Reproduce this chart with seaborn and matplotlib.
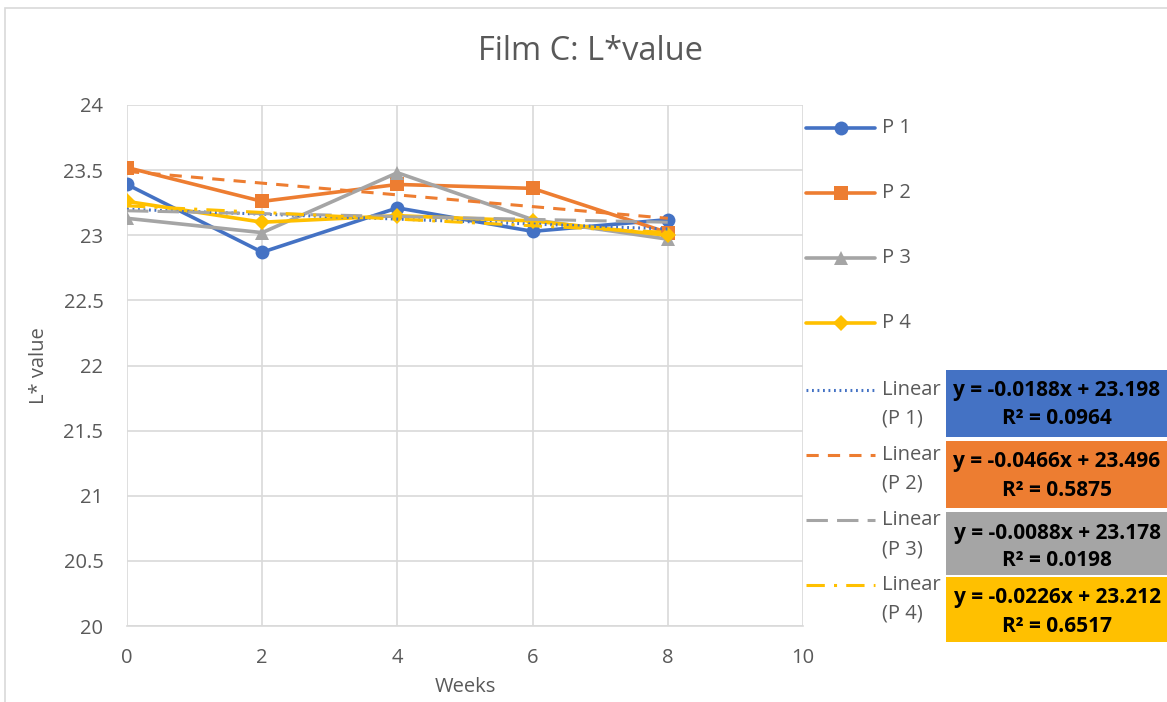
import numpy as np
import pandas as pd
import matplotlib
matplotlib.use("Agg")
import matplotlib.pyplot as plt
from matplotlib.lines import Line2D
from matplotlib.patches import Rectangle
import seaborn as sns

# ---- data ----
weeks = [0, 2, 4, 6, 8]
p1 = [23.39, 22.87, 23.21, 23.03, 23.12]
p2 = [23.52, 23.26, 23.39, 23.36, 23.02]
p3 = [23.13, 23.02, 23.48, 23.12, 22.97]
p4 = [23.26, 23.10, 23.15, 23.11, 23.00]
series_names = ["P 1", "P 2", "P 3", "P 4"]
eq_lines = ["y = -0.0188x + 23.198", "y = -0.0466x + 23.496",
            "y = -0.0088x + 23.178", "y = -0.0226x + 23.212"]
r2_lines = ["R² = 0.0964", "R² = 0.5875", "R² = 0.0198", "R² = 0.6517"]
y_ticks = [20, 20.5, 21, 21.5, 22, 22.5, 23, 23.5, 24]
x_ticks = [0, 2, 4, 6, 8, 10]

# ---- style ----
sns.set_theme(style="white")
plt.rcParams['font.family'] = ['Open Sans', 'DejaVu Sans']
colors = ["#4472C4", "#ED7D31", "#A5A5A5", "#FFC000"]
markers = ["o", "s", "^", "D"]
msizes = [10, 10, 10, 8]
trend_styles = [(0, (0.6, 1.2)), (0, (4, 3)), (0, (7, 3)), (0, (6, 3, 1, 3))]
txt_grey = "#595959"

W, H = 1167, 702
fig = plt.figure(figsize=(W / 100, H / 100), dpi=100)
def fx(px): return px / W
def fy(py): return 1 - py / H

ax = fig.add_axes([fx(127), fy(626), fx(803) - fx(127), fy(105) - fy(626)])

df = pd.DataFrame({"Weeks": weeks * 4,
                   "L": p1 + p2 + p3 + p4,
                   "series": sum([[n] * len(weeks) for n in series_names], [])})

for i, name in enumerate(series_names):
    d = df[df.series == name]
    sns.lineplot(data=d, x="Weeks", y="L", ax=ax, color=colors[i], marker=markers[i],
                 markersize=msizes[i], markeredgewidth=0, linewidth=2.6, zorder=3,
                 legend=False)
for i, name in enumerate(series_names):
    d = df[df.series == name]
    sns.regplot(data=d, x="Weeks", y="L", ax=ax, scatter=False, ci=None, truncate=True,
                line_kws=dict(color=colors[i], linestyle=trend_styles[i], linewidth=2.2,
                              zorder=4))

ax.set_xlim(0, 10)
ax.set_ylim(20, 24)
ax.set_xticks(x_ticks)
ax.set_yticks(y_ticks)
ax.set_yticklabels([f"{v:g}" for v in y_ticks])
ax.grid(True, color="#D9D9D9", linewidth=1.2)
ax.set_axisbelow(True)
for s in ["top", "right", "left"]:
    ax.spines[s].set_visible(False)
ax.spines["bottom"].set_color("#D9D9D9")
ax.spines["bottom"].set_linewidth(1.2)
ax.tick_params(axis="x", length=0, labelsize=14.5, colors=txt_grey, pad=16)
ax.tick_params(axis="y", length=0, labelsize=14.5, colors=txt_grey, pad=17)
ax.set_xlabel("Weeks", fontsize=14.5, color=txt_grey, labelpad=6)
ax.set_ylabel("L* value", fontsize=14.5, color=txt_grey, labelpad=10)

fig.text(fx(590), fy(52), "Film C: L*value", ha="center", va="center",
         fontsize=23.5, color=txt_grey)

# chart border
fig.add_artist(Rectangle((fx(5), fy(720)), fx(1200) - fx(5), fy(8) - fy(720),
                         transform=fig.transFigure, fill=False,
                         edgecolor="#D9D9D9", linewidth=1.2))

# legend (manual)
ys = [128, 193, 258, 323]
for i, name in enumerate(series_names):
    fig.add_artist(Line2D([fx(806), fx(875)], [fy(ys[i])] * 2, transform=fig.transFigure,
                          color=colors[i], linewidth=2.6))
    fig.add_artist(Line2D([fx(841)], [fy(ys[i])], transform=fig.transFigure,
                          color=colors[i], marker=markers[i], markersize=msizes[i],
                          markeredgewidth=0))
    fig.text(fx(882), fy(ys[i]), name, fontsize=14.5, color=txt_grey, va="center")
ys2 = [390, 455, 520, 585]
for i, name in enumerate(series_names):
    fig.add_artist(Line2D([fx(806), fx(875)], [fy(ys2[i])] * 2, transform=fig.transFigure,
                          color=colors[i], linewidth=2.2, linestyle=trend_styles[i]))
    fig.text(fx(882), fy(ys2[i]), "Linear", fontsize=14.5, color=txt_grey, va="center")
    fig.text(fx(882), fy(ys2[i] + 29), f"({name})", fontsize=14.5, color=txt_grey, va="center")

# equation boxes
boxes = [(370, 437), (441, 508), (512, 575), (577, 642)]
for i in range(4):
    t, b = boxes[i]
    fig.add_artist(Rectangle((fx(946), fy(b)), fx(1170) - fx(946), fy(t) - fy(b),
                             transform=fig.transFigure, facecolor=colors[i],
                             edgecolor="none"))
    fig.text(fx(1057), fy(t + 21), eq_lines[i], ha="center", va="center",
             fontsize=15, fontweight="bold", color="black")
    fig.text(fx(1057), fy(t + 49), r2_lines[i], ha="center", va="center",
             fontsize=15, fontweight="bold", color="black")

fig.savefig("out.png", dpi=100, facecolor="white")
